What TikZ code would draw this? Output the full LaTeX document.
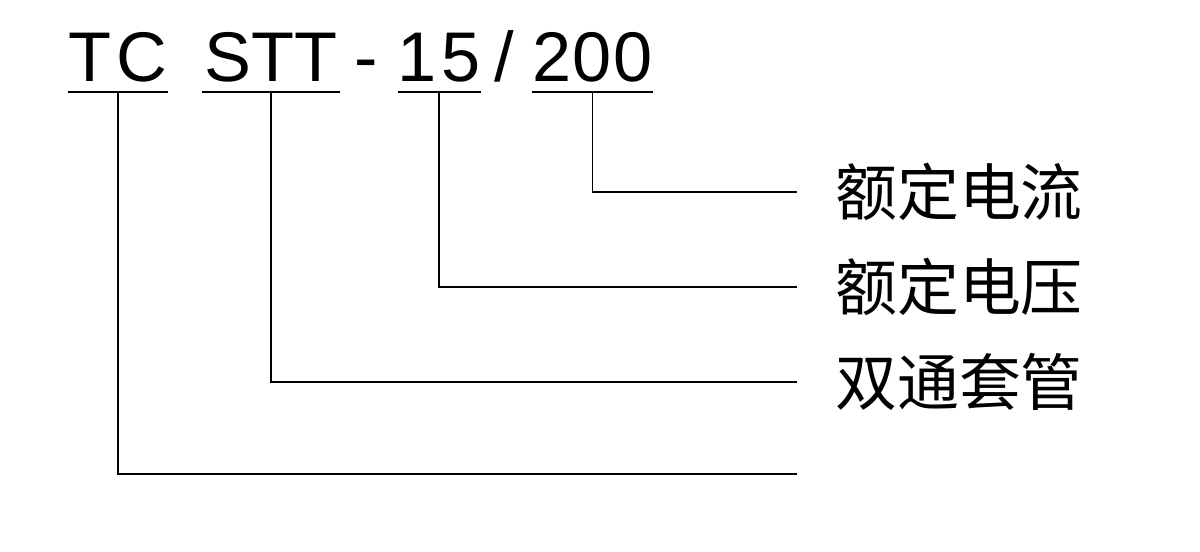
\documentclass[tikz,border=0pt]{standalone}
\usepackage{fontspec}
\setmainfont{Liberation Sans}
\newfontfamily\cjk{Noto Sans CJK SC}
\usetikzlibrary{positioning}

\begin{document}
\begin{tikzpicture}[x=0.025cm,y=-0.025cm,
	code/.style={inner xsep=0pt,inner ysep=6.4pt,anchor=base,font=\fontsize{50}{50}\selectfont},
	lbl/.style={inner sep=0pt,anchor=west,font=\cjk\fontsize{44}{44}\selectfont},
	wire/.style={line width=1.4pt}]
				\useasboundingbox (0,0) rectangle (1200,551);
				\node[code, minimum width=2.45cm] (TC) at (118,82) {T\kern4pt C};
				\node[code, minimum width=3.45cm] (STT) at (271,82) {STT};
				\node[code] (dash) at (366,82) {-};
				\node[code, minimum width=1.9cm] (n15) at (439,82) {1\kern3pt 5};
				\node[code] (slash) at (504,82) {/};
				\node[code, minimum width=3.025cm] (n200) at (592.5,82) {2\kern1pt 0\kern1pt 0};
				\coordinate (eI) at (797,192);
				\coordinate (eU) at (797,287);
				\coordinate (eS) at (797,382);
				\coordinate (eT) at (797,474);
				\node[lbl, right=0.95cm of eI] (current) {额定电流};
				\node[lbl, right=0.95cm of eU] (voltage) {额定电压};
				\node[lbl, right=0.95cm of eS] (bushing) {双通套管};
				\draw[wire] (TC.south west) -- (TC.south east);
				\draw[wire] (STT.south west) -- (STT.south east);
				\draw[wire] (n15.south west) -- (n15.south east);
				\draw[wire] (n200.south west) -- (n200.south east);
				\draw[wire] (n200.south) |- (eI);
				\draw[wire] (n15.south) |- (eU);
				\draw[wire] (STT.south) |- (eS);
				\draw[wire] (TC.south) |- (eT);
				\end{tikzpicture}
\end{document}
